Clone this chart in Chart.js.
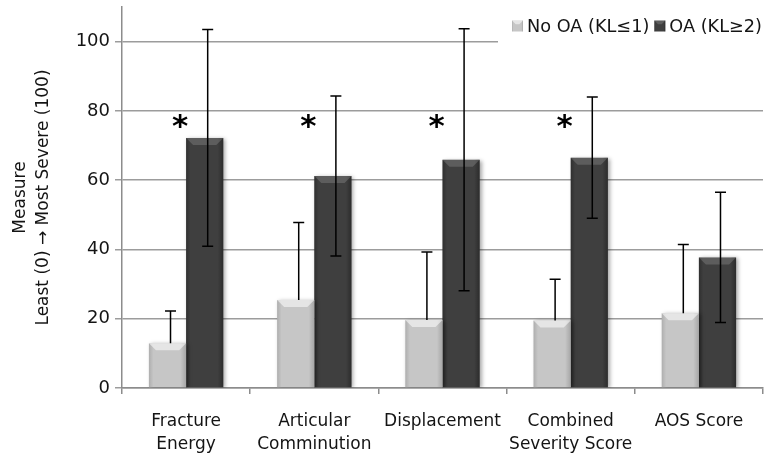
<!DOCTYPE html>
<html>
<head>
<meta charset="utf-8">
<script src="https://cdn.jsdelivr.net/npm/chart.js@4.4.1/dist/chart.umd.min.js"></script>
<style>
  html, body { margin: 0; padding: 0; background: #fff; }
  #wrap { width: 771px; height: 458px; }
</style>
</head>
<body>
<div id="wrap"><canvas id="chart"></canvas></div>
<script>
// Chart values
const categories = [['Fracture', 'Energy'], ['Articular', 'Comminution'], 'Displacement', ['Combined', 'Severity Score'], 'AOS Score'];
const seriesNames = ['No OA (KL≤1)', 'OA (KL≥2)'];
const noOaValues = [12.9, 25.4, 19.6, 19.5, 21.6];
const noOaErrors = [9.3, 22.4, 19.7, 11.9, 19.8];
const oaValues = [72.2, 61.2, 65.9, 66.5, 37.7];
const oaErrors = [31.3, 23.1, 37.8, 17.5, 18.8];
const significant = [true, true, true, true, false];
const yTicks = [0, 20, 40, 60, 80, 100];
const yTitle = ['Measure', 'Least (0) \u2192 Most Severe (100)'];

const FONT = '"DejaVu Sans", sans-serif';
const TEXT = '#141414';
const LIGHT = '#c6c6c6';
const DARK = '#3f3f3f';

// --- shading, legend, error bars and asterisks ---
function drawBevelBar(ctx, left, top, right, bottom, dark) {
    const w = right - left;
    const g = ctx.createLinearGradient(left, 0, right, 0);
    g.addColorStop(0, dark ? 'rgba(0,0,0,0.25)' : 'rgba(0,0,0,0.12)');
    g.addColorStop(0.12, 'rgba(0,0,0,0)');
    g.addColorStop(0.85, 'rgba(0,0,0,0)');
    g.addColorStop(1, dark ? 'rgba(0,0,0,0.3)' : 'rgba(0,0,0,0.16)');
    ctx.fillStyle = g;
    ctx.fillRect(left, top, w, bottom - top);
    const b = Math.min(7, (bottom - top) / 2, w / 3);
    ctx.beginPath();
    ctx.moveTo(left, top);
    ctx.lineTo(right, top);
    ctx.lineTo(right - b, top + b);
    ctx.lineTo(left + b, top + b);
    ctx.closePath();
    ctx.fillStyle = dark ? 'rgba(255,255,255,0.16)' : 'rgba(255,255,255,0.55)';
    ctx.fill();
}

const decorPlugin = {
    id: 'decor',
    beforeDatasetsDraw(chart) {
        const ctx = chart.ctx;
        const area = chart.chartArea;
        ctx.save();
        ctx.font = '17.7px ' + FONT;
        const sq = 11, gap = 4, itemGap = 5;
        const widths = seriesNames.map(n => ctx.measureText(n).width);
        const total = widths.reduce((a, w) => a + sq + gap + w, 0) + itemGap;
        let x = area.right - 1 - total;
        const cy = area.top + 19;
        // white box hides the grid under the legend
        ctx.fillStyle = '#fff';
        ctx.fillRect(x - 14, area.top, area.right - x + 14, 37);
        ctx.textBaseline = 'middle';
        seriesNames.forEach((name, i) => {
            const dark = i === 1;
            ctx.fillStyle = dark ? DARK : LIGHT;
            ctx.fillRect(x, cy - sq / 2, sq, sq);
            drawBevelBar(ctx, x, cy - sq / 2, x + sq, cy + sq / 2, dark);
            ctx.fillStyle = TEXT;
            ctx.fillText(name, x + sq + gap, cy + 1);
            x += sq + gap + widths[i] + itemGap;
        });
        ctx.restore();
    },
    beforeDatasetDraw(chart) {
        const ctx = chart.ctx;
        ctx.save();
        ctx.shadowColor = 'rgba(0,0,0,0.35)';
        ctx.shadowBlur = 4;
        ctx.shadowOffsetX = 2;
        ctx.shadowOffsetY = 1;
    },
    afterDatasetDraw(chart, args) {
        const ctx = chart.ctx;
        ctx.restore();
        ctx.save();
        const dark = args.index === 1;
        args.meta.data.forEach(el => {
            const p = el.getProps(['x', 'y', 'base', 'width'], true);
            drawBevelBar(ctx, p.x - p.width / 2, p.y, p.x + p.width / 2, p.base, dark);
        });
        ctx.restore();
    },
    afterDatasetsDraw(chart) {
        const ctx = chart.ctx;
        const yScale = chart.scales.y;
        const xScale = chart.scales.x;
        ctx.save();
        ctx.strokeStyle = '#000';
        ctx.lineWidth = 1.5;
        const series = [[noOaValues, noOaErrors, false], [oaValues, oaErrors, true]];
        series.forEach(([vals, errs, both], di) => {
            chart.getDatasetMeta(di).data.forEach((el, i) => {
                const x = el.x + 3;
                const top = yScale.getPixelForValue(vals[i] + errs[i]);
                const bottom = both ? yScale.getPixelForValue(vals[i] - errs[i]) : el.y;
                ctx.beginPath();
                ctx.moveTo(x, top);
                ctx.lineTo(x, bottom);
                ctx.moveTo(x - 5.5, top);
                ctx.lineTo(x + 5.5, top);
                if (both) {
                    ctx.moveTo(x - 5.5, bottom);
                    ctx.lineTo(x + 5.5, bottom);
                }
                ctx.stroke();
            });
        });
        // significance markers
        ctx.font = 'bold 31px ' + FONT;
        ctx.fillStyle = '#000';
        ctx.textAlign = 'center';
        ctx.textBaseline = 'alphabetic';
        const m = ctx.measureText('*');
        significant.forEach((s, i) => {
            if (!s) return;
            const cx = xScale.getPixelForValue(i) - 6;
            const cy = yScale.getPixelForValue(77);
            ctx.fillText('*', cx, cy + (m.actualBoundingBoxAscent - m.actualBoundingBoxDescent) / 2);
        });
        ctx.restore();
    }
};

Chart.defaults.font.family = FONT;
Chart.defaults.font.size = 17;
Chart.defaults.color = TEXT;

new Chart(document.getElementById('chart'), {
    type: 'bar',
    data: {
        labels: categories,
        datasets: [
            { label: seriesNames[0], data: noOaValues, backgroundColor: LIGHT },
            { label: seriesNames[1], data: oaValues, backgroundColor: DARK }
        ]
    },
    options: {
        responsive: true,
        maintainAspectRatio: false,
        animation: false,
        layout: { padding: { top: 7, right: 8, left: 0, bottom: 0 } },
        datasets: { bar: { categoryPercentage: 0.58, barPercentage: 1.0 } },
        plugins: { legend: { display: false }, tooltip: { enabled: false } },
        scales: {
            x: {
                grid: { drawOnChartArea: false, color: '#8c8c8c', lineWidth: 1.5, tickLength: 6, offset: true },
                border: { color: '#8c8c8c', width: 1.5 },
                ticks: { color: TEXT, padding: 17, maxRotation: 0, autoSkip: false, font: { size: 17, lineHeight: 1.3 } },
                afterFit(scale) { scale.height = 70; scale.paddingLeft = 0; scale.paddingRight = 0; }
            },
            y: {
                min: 0,
                max: 110,
                afterBuildTicks(scale) { scale.ticks = yTicks.map(v => ({ value: v })); },
                grid: { color: '#9c9c9c', lineWidth: 1.5, tickLength: 7 },
                border: { color: '#8c8c8c', width: 1.5 },
                ticks: { color: TEXT, padding: 5, font: { size: 18 } },
                title: { display: true, text: yTitle, color: TEXT, font: { size: 17, lineHeight: 1.3 }, padding: { top: 10, bottom: 0 } },
                afterFit(scale) { scale.width = 122; scale.paddingTop = 0; scale.paddingBottom = 0; }
            }
        }
    },
    plugins: [decorPlugin]
});
</script>
</body>
</html>
